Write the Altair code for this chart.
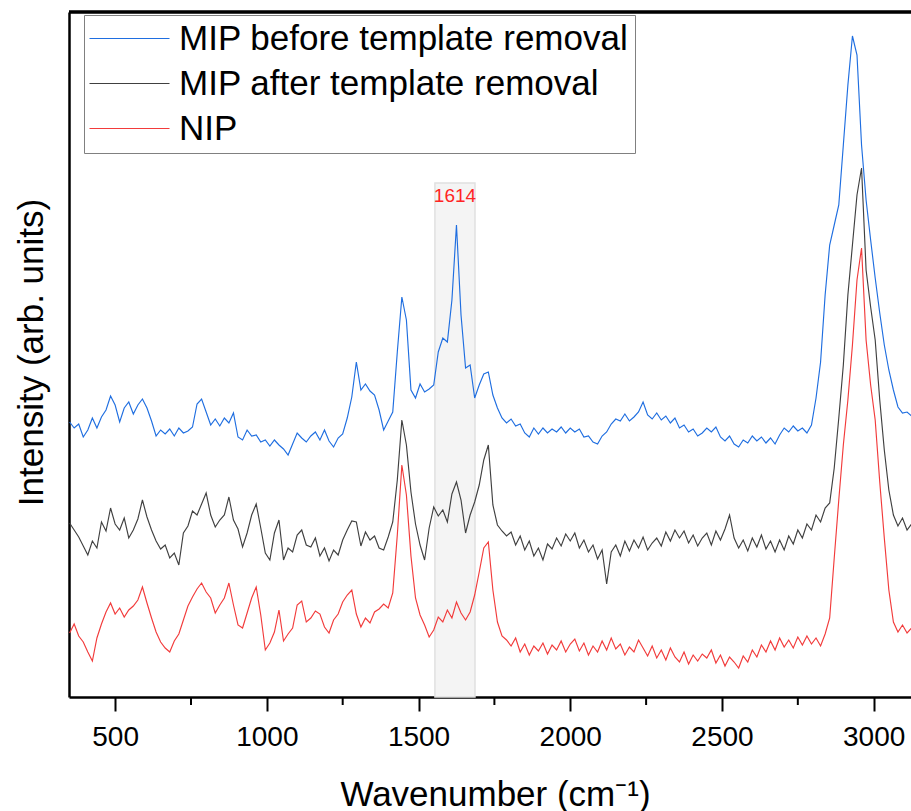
import altair as alt
import pandas as pd

# Raman shift grid (cm^-1), one reading every 15 cm^-1
wavenumber = list(range(350, 3126, 15))

series_names = ["MIP before template removal", "MIP after template removal", "NIP"]
series_colors = ["#1f6ee0", "#404040", "#f23b3b"]

mip_before = [
    275, 269, 273, 260, 267, 279, 269, 280, 287, 301,
    292, 275, 289, 295, 283, 292, 298, 289, 276, 261,
    267, 263, 268, 261, 269, 264, 266, 270, 293, 298,
    285, 272, 278, 271, 279, 274, 284, 260, 257, 267,
    261, 262, 255, 257, 251, 257, 252, 248, 242, 253,
    264, 259, 255, 261, 265, 257, 267, 256, 250, 259,
    263, 279, 300, 335, 307, 313, 306, 302, 287, 267,
    276, 285, 345, 400, 377, 307, 299, 313, 305, 308,
    312, 345, 359, 355, 397, 472, 382, 329, 332, 299,
    312, 323, 325, 302, 289, 279, 274, 278, 271, 273,
    264, 260, 269, 263, 269, 264, 268, 265, 270, 264,
    269, 265, 268, 260, 261, 255, 253, 261, 265, 273,
    278, 276, 283, 276, 280, 285, 295, 282, 278, 284,
    277, 281, 274, 279, 269, 272, 265, 268, 261, 264,
    269, 265, 270, 260, 256, 261, 253, 250, 257, 254,
    261, 256, 260, 254, 259, 253, 262, 269, 265, 271,
    266, 269, 264, 272, 299, 335, 402, 452, 472, 492,
    552, 612, 661, 642, 552, 497, 457, 419, 384, 352,
    327, 307, 290, 284, 285, 281,
]

mip_after = [
    174, 167, 160, 151, 142, 156, 149, 175, 166, 189,
    173, 167, 179, 159, 167, 178, 197, 180, 167, 156,
    148, 152, 139, 144, 132, 164, 171, 186, 182, 193,
    204, 182, 170, 177, 182, 200, 177, 168, 150, 164,
    182, 193, 169, 144, 137, 164, 177, 137, 149, 145,
    162, 167, 152, 150, 159, 141, 149, 136, 147, 142,
    157, 167, 176, 175, 151, 165, 157, 161, 149, 147,
    160, 175, 217, 277, 252, 205, 173, 152, 137, 169,
    190, 181, 187, 175, 203, 215, 197, 164, 182, 195,
    212, 237, 252, 192, 172, 166, 161, 165, 152, 161,
    147, 156, 141, 149, 137, 153, 148, 159, 151, 163,
    156, 164, 149, 157, 145, 152, 138, 147, 113, 145,
    152, 141, 156, 146, 157, 149, 160, 147, 154, 159,
    151, 165, 156, 167, 159, 166, 154, 162, 151, 159,
    164, 152, 166, 157, 168, 182, 159, 149, 157, 146,
    159, 150, 162, 148, 156, 145, 157, 147, 161, 153,
    167, 159, 173, 167, 182, 175, 189, 194, 229, 279,
    332, 402, 452, 502, 529, 427, 390, 357, 297, 247,
    207, 182, 171, 179, 167, 173,
]

nip = [
    64, 73, 61, 55, 45, 36, 59, 73, 85, 94,
    83, 89, 80, 87, 91, 97, 110, 94, 79, 65,
    55, 49, 45, 56, 63, 77, 91, 100, 108, 114,
    105, 99, 84, 92, 99, 114, 92, 72, 69, 84,
    99, 110, 82, 47, 54, 65, 87, 56, 63, 69,
    92, 96, 75, 79, 86, 83, 70, 64, 77, 83,
    95, 102, 107, 83, 70, 79, 74, 85, 88, 93,
    89, 104, 162, 232, 202, 141, 99, 82, 72, 60,
    67, 80, 75, 87, 79, 95, 84, 77, 85, 102,
    125, 149, 155, 107, 75, 61, 57, 51, 59, 45,
    53, 42, 51, 46, 54, 43, 52, 47, 56, 45,
    53, 58, 46, 54, 42, 51, 45, 56, 47, 59,
    48, 53, 42, 50, 45, 57, 49, 41, 51, 39,
    47, 37, 49, 40, 35, 45, 33, 42, 36, 43,
    39, 47, 34, 42, 31, 40, 35, 29, 41, 35,
    47, 40, 52, 45, 56, 47, 59, 50, 57, 49,
    60, 52, 61, 53, 59, 51, 63, 79, 139, 197,
    252, 297, 352, 417, 449, 357, 312, 277, 215, 159,
    107, 75, 65, 72, 64, 69,
]

# highlighted band around the 1614 cm^-1 peak
band_start = [1554]
band_end = [1686]
band_top = [514]
band_label = ["1614"]
band_label_x = [1620]
band_label_y = [501]

x_ticks = [500, 1000, 1500, 2000, 2500, 3000]
minor_ticks = [750, 1250, 1750, 2250, 2750]

FONT = "Liberation Sans"
W, H = 842, 685

for s in (mip_before, mip_after, nip):
    assert len(s) == len(wavenumber), (len(s), len(wavenumber))

rows = []
for name, vals in zip(series_names, [mip_before, mip_after, nip]):
    for w, v in zip(wavenumber, vals):
        rows.append({"wavenumber": w, "intensity": v, "series": name})
df = pd.DataFrame(rows)

band_df = pd.DataFrame({"x1": band_start, "x2": band_end, "top": band_top,
                        "label": band_label, "lx": band_label_x,
                        "ly": band_label_y})
minor_df = pd.DataFrame({"w": minor_ticks})

x_scale = alt.Scale(domain=[348, 3123], nice=False, zero=False)
y_scale = alt.Scale(domain=[0, 685], nice=False, zero=False)

x_axis = alt.Axis(
    values=x_ticks, format="d", grid=False,
    tickSize=14, tickWidth=2, tickColor="black",
    domainWidth=2.5, domainColor="black",
    labelFont=FONT, labelFontSize=28, labelColor="black", labelPadding=12,
    labelFlush=False,
    title="Wavenumber (cm\u207b\u00b9)", titleFont=FONT, titleFontSize=35,
    titleFontWeight="normal", titleColor="black",
    titleX=426, titleY=108, titleAlign="center", titleBaseline="alphabetic",
)
y_axis = alt.Axis(
    ticks=False, labels=False, grid=False,
    domainWidth=2.5, domainColor="black",
    title="Intensity (arb. units)", titleFont=FONT, titleFontSize=35,
    titleFontWeight="normal", titleColor="black",
    titleX=-38, titleY=340, titleAngle=-90, titleAlign="center",
    titleBaseline="middle",
)

band = alt.Chart(band_df).mark_rect(
    fill="#f4f4f4", stroke="#e0e0e0", strokeWidth=1.5
).encode(
    x=alt.X("x1:Q", scale=x_scale, axis=x_axis),
    x2="x2:Q",
    y=alt.Y("top:Q", scale=y_scale, axis=y_axis),
    y2=alt.datum(0),
)

band_text = alt.Chart(band_df).mark_text(
    font=FONT, fontSize=19, color="#ff2424", align="center", baseline="middle"
).encode(
    x=alt.X("lx:Q", scale=x_scale, axis=x_axis),
    y=alt.Y("ly:Q", scale=y_scale, axis=y_axis),
    text="label:N",
)

lines = alt.Chart(df).mark_line(strokeWidth=1.15, clip=True).encode(
    x=alt.X("wavenumber:Q", scale=x_scale, axis=x_axis),
    y=alt.Y("intensity:Q", scale=y_scale, axis=y_axis),
    color=alt.Color(
        "series:N",
        scale=alt.Scale(domain=series_names, range=series_colors),
        sort=series_names,
        legend=alt.Legend(
            title=None, orient="none", legendX=15, legendY=3,
            padding=6, strokeColor="#808080", fillColor="white",
            symbolType="M-4,0L4,0", symbolSize=400, symbolStrokeWidth=1.2,
            symbolOffset=22,
            labelFont=FONT, labelFontSize=35, labelColor="black",
            labelOffset=32, rowPadding=9, labelLimit=1000, cornerRadius=0,
        ),
    ),
)

minor = alt.Chart(minor_df).mark_rule(color="black", strokeWidth=2).encode(
    x=alt.X("w:Q", scale=x_scale, axis=x_axis),
    y=alt.value(H),
    y2=alt.value(H + 8),
)

top_border = alt.Chart(minor_df).mark_rule(color="black", strokeWidth=2.5).encode(
    x=alt.value(0), x2=alt.value(W), y=alt.value(0)
)

chart = alt.layer(band, band_text, lines, minor, top_border).properties(
    width=W, height=H,
    autosize=alt.AutoSizeParams(type="none"),
    padding={"left": 69, "top": 12, "right": 0, "bottom": 114},
    background="white",
).configure_view(strokeWidth=0)

chart.save("out.html", embed_options={"renderer": "svg", "actions": False})
